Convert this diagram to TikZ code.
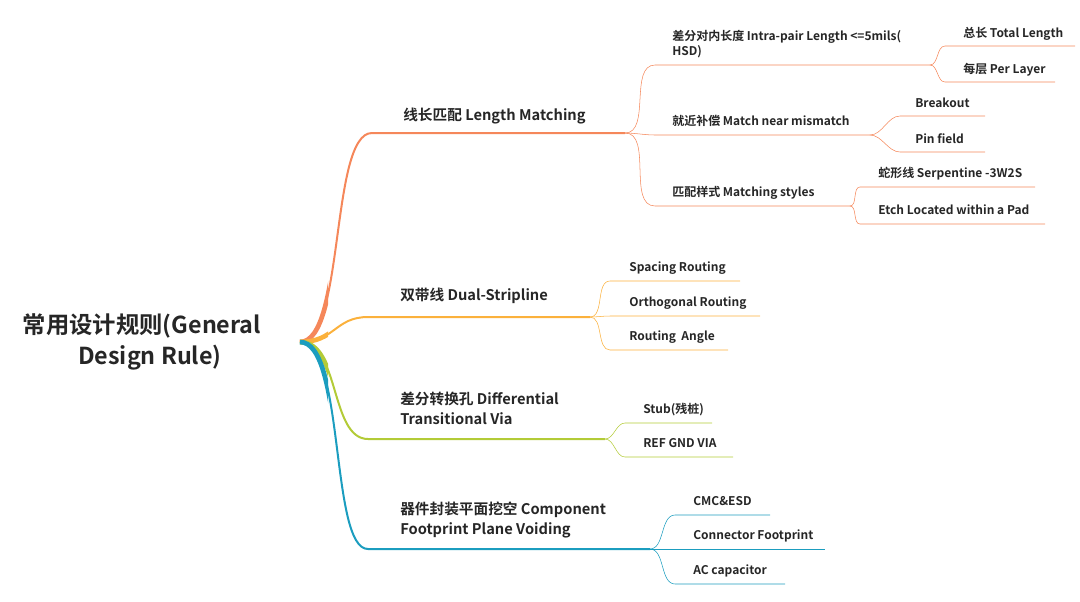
\documentclass[tikz,border=0pt]{standalone}
\usepackage{fontspec}
\setmainfont{Noto Sans CJK SC}[BoldFont={Noto Sans CJK SC Bold}]
\begin{document}
\begin{tikzpicture}[x=0.75pt,y=-0.75pt,
  lbl/.style={anchor=base west,inner sep=0,font=\bfseries\fontsize{11}{15}\selectfont,text=black!85},
  sml/.style={anchor=base west,inner sep=0,font=\bfseries\fontsize{9}{11}\selectfont,text=black!85,align=left},
  br/.style={line width=1.5pt},
  tb/.style={line width=3.5pt},
  cv/.style={out=0,in=180,looseness=0.9}]
\useasboundingbox (0,0) rectangle (1080,601);
\definecolor{cA}{HTML}{F5875A}
\definecolor{cB}{HTML}{FBB13C}
\definecolor{cC}{HTML}{B3CB37}
\definecolor{cD}{HTML}{1B9DBF}
\node[anchor=center,font=\bfseries\fontsize{17.5}{23}\selectfont,align=center,text=black!85] (root) at (142,342) {常用设计规则(General\\ \ \ \ Design Rule)};
\coordinate (r) at (300,342);
% level 1
\node[lbl] (L1) at (403,120) {线长匹配 Length Matching};
\node[lbl] (L2) at (400,300) {双带线 Dual-Stripline};
\node[lbl,align=left] (L3) at (400,424) {差分转换孔 Differential\\Transitional Via};
\node[lbl,align=left] (L4) at (400,534) {器件封装平面挖空 Component\\Footprint Plane Voiding};
\coordinate (a0) at (372,133); \coordinate (a1) at (625,133);
\coordinate (b0) at (368,317); \coordinate (b1) at (590,317);
\coordinate (c0) at (368,439); \coordinate (c1) at (605,439);
\coordinate (d0) at (368,549); \coordinate (d1) at (650,549);
\draw[cA,br] (r) .. controls (345,342) and (330,133) .. (a0) -- (a1);
\draw[cB,br] (r) .. controls (335,342) and (335,317) .. (b0) -- (b1);
\draw[cC,br] (r) .. controls (340,342) and (330,439) .. (c0) -- (c1);
\draw[cD,br] (r) .. controls (345,342) and (330,549) .. (d0) -- (d1);
\begin{scope}
\clip (290,0) rectangle (328,601);
\draw[cA,tb] (r) .. controls (345,342) and (330,133) .. (a0);
\draw[cB,tb] (r) .. controls (335,342) and (335,317) .. (b0);
\draw[cC,tb] (r) .. controls (340,342) and (330,439) .. (c0);
\draw[cD,tb] (r) .. controls (345,342) and (330,549) .. (d0);
\end{scope}
% Length Matching children
\node[sml] (m1) at (672,55) {差分对内长度 Intra-pair Length <=5mils(\\HSD)};
\node[sml] (m2) at (672,125) {就近补偿 Match near mismatch};
\node[sml] (m3) at (672,196) {匹配样式 Matching styles};
\coordinate (m1a) at (655,65); \coordinate (m1b) at (930,65);
\coordinate (m2a) at (655,135); \coordinate (m2b) at (870,135);
\coordinate (m3a) at (655,206); \coordinate (m3b) at (850,206);
\draw[cA] (a1) to[cv] (m1a) -- (m1b);
\draw[cA] (a1) to[cv] (m2a) -- (m2b);
\draw[cA] (a1) to[cv] (m3a) -- (m3b);
\node[sml] (t1) at (963,37) {总长 Total Length};
\node[sml] (t2) at (963,73) {每层 Per Layer};
\draw[cA] (m1b) to[cv] (945,46) -- (1075,46);
\draw[cA] (m1b) to[cv] (945,82) -- (1055,82);
\node[sml] (t3) at (915,107) {Breakout};
\node[sml] (t4) at (915,143) {Pin field};
\draw[cA] (m2b) to[cv] (900,116) -- (985,116);
\draw[cA] (m2b) to[cv] (900,152) -- (985,152);
\node[sml] (t5) at (878,177) {蛇形线 Serpentine -3W2S};
\node[sml] (t6) at (878,214) {Etch Located within a Pad};
\draw[cA] (m3b) to[cv] (860,187) -- (1035,187);
\draw[cA] (m3b) to[cv] (860,224) -- (1045,224);
% Dual-Stripline children
\node[sml] (s1) at (629,271) {Spacing Routing};
\node[sml] (s2) at (629,306) {Orthogonal Routing};
\node[sml] (s3) at (629,340) {Routing\ \ Angle};
\draw[cB] (b1) to[cv] (610,281) -- (740,281);
\draw[cB] (b1) to[cv] (610,316) -- (760,316);
\draw[cB] (b1) to[cv] (610,350) -- (728,350);
% Via children
\node[sml] (v1) at (643,413) {Stub(残桩)};
\node[sml] (v2) at (643,447) {REF GND VIA};
\draw[cC] (c1) to[cv] (625,423) -- (712,423);
\draw[cC] (c1) to[cv] (625,457) -- (733,457);
% Component children
\node[sml] (p1) at (693,505) {CMC\&ESD};
\node[sml] (p2) at (693,539) {Connector Footprint};
\node[sml] (p3) at (693,574) {AC capacitor};
\draw[cD] (d1) to[cv] (675,515) -- (770,515);
\draw[cD] (d1) to[cv] (675,549) -- (825,549);
\draw[cD] (d1) to[cv] (675,584) -- (785,584);
\end{tikzpicture}
\end{document}
